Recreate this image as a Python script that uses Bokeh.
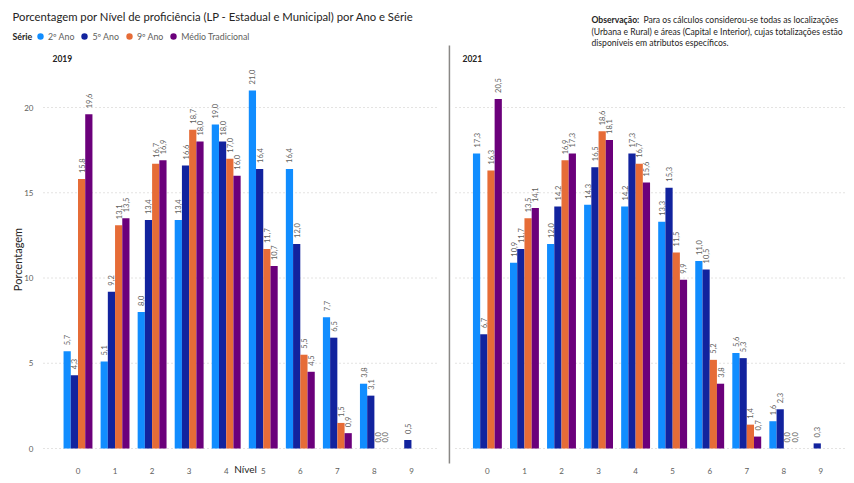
import math
from bokeh.plotting import figure
from bokeh.models import (ColumnDataSource, Range1d, Label, Legend, LegendItem)
from bokeh.transform import dodge
from bokeh.core.properties import value
from bokeh.embed import file_html
from bokeh.resources import INLINE

nan = float("nan")

# ---------------- data ----------------
niveis = [0, 1, 2, 3, 4, 5, 6, 7, 8, 9]
anos = ["2019", "2021"]
series = ["2º Ano", "5º Ano", "9º Ano", "Médio Tradicional"]
cores = ["#118DFF", "#12239E", "#E66C37", "#6B007B"]

ano2_2019 = [5.7, 5.1, 8.0, 13.4, 19.0, 21.0, 16.4, 7.7, 3.8, nan]
ano5_2019 = [4.3, 9.2, 13.4, 16.6, 18.0, 16.4, 12.0, 6.5, 3.1, 0.5]
ano9_2019 = [15.8, 13.1, 16.7, 18.7, 17.0, 11.7, 5.5, 1.5, 0.0, nan]
medio_2019 = [19.6, 13.5, 16.9, 18.0, 16.0, 10.7, 4.5, 0.9, 0.0, nan]

ano2_2021 = [17.3, 10.9, 12.0, 14.3, 14.2, 13.3, 11.0, 5.6, 1.6, nan]
ano5_2021 = [6.7, 11.7, 14.2, 16.5, 17.3, 15.3, 10.5, 5.3, 2.3, 0.3]
ano9_2021 = [16.3, 13.5, 16.9, 18.6, 16.7, 11.5, 5.2, 1.4, 0.0, nan]
medio_2021 = [20.5, 14.1, 17.3, 18.1, 15.6, 9.9, 3.8, 0.7, 0.0, nan]

y_ticks = [0, 5, 10, 15, 20]
x_label = "Nível"
y_label = "Porcentagem"

titulo = "Porcentagem por Nível de proficiência (LP - Estadual e Municipal) por Ano e Série"
legenda_titulo = "Série"
obs_bold = "Observação:"
obs_linhas = ["Para os cálculos considerou-se todas as localizações",
              "(Urbana e Rural) e áreas (Capital e Interior), cujas totalizações estão",
              "disponíveis em atributos específicos."]

valores = {
    "2019": [ano2_2019, ano5_2019, ano9_2019, medio_2019],
    "2021": [ano2_2021, ano5_2021, ano9_2021, medio_2021],
}

# ---------------- layout constants ----------------
FONT = "Lato"
TXT = "#605E5C"
DARK = "#252423"
GRID = "#C8C6C4"
W, H = 846, 475
PANEL_OFFSET = 11.05
BAR_W = 0.195
offsets = [-1.5 * BAR_W, -0.5 * BAR_W, 0.5 * BAR_W, 1.5 * BAR_W]
PX_X, X0_PAGE = 37.05, 77.5     # pixels per level, pixel of level 0 (first panel)
PX_Y, Y0_PAGE = 17.05, 448.0    # pixels per percent, pixel of the 0 line


def dx(px):
    return (px - X0_PAGE) / PX_X


def dy(py):
    return (Y0_PAGE - py) / PX_Y


def sy(py):
    return H - py


p = figure(width=W, height=H, output_backend="svg", toolbar_location=None,
           x_range=Range1d(dx(0), dx(W)), y_range=Range1d(dy(H), dy(0)),
           min_border_left=0, min_border_right=0, min_border_top=0, min_border_bottom=0)
p.axis.visible = False
p.grid.visible = False
p.outline_line_color = None
p.background_fill_color = "white"
p.border_fill_color = "white"

# ---- grid lines (per panel) ----
panel_spans = [(dx(43), dx(438)), (dx(455), dx(W))]
for x0, x1 in panel_spans:
    p.segment(x0=[x0] * len(y_ticks), x1=[x1] * len(y_ticks), y0=y_ticks, y1=y_ticks,
              line_color=GRID, line_width=1, line_dash="1 3")

# ---- separator between the panels ----
sep_x = (9 + PANEL_OFFSET) / 2
p.segment(x0=[sep_x], x1=[sep_x], y0=[dy(463)], y1=[dy(45)],
          line_color="#8A8886", line_width=1.5)

# ---- y tick labels ----
p.text(x=[dx(43)] * len(y_ticks), y=y_ticks, text=[str(t) for t in y_ticks], x_offset=-10,
       text_align="right", text_baseline="middle", text_font=value(FONT),
       text_font_size="8px", text_color=TXT)

# ---- x tick labels ----
tick_src = ColumnDataSource(dict(
    x=niveis + [n + PANEL_OFFSET for n in niveis],
    y=[0] * (2 * len(niveis)),
    t=[str(n) for n in niveis] * 2,
))
p.text(x="x", y="y", text="t", source=tick_src, y_offset=22, text_align="center",
       text_baseline="middle", text_font=value(FONT), text_font_size="8px",
       text_color=TXT)

# ---- bars + data labels ----
for yi, ano in enumerate(anos):
    off = yi * PANEL_OFFSET
    for si, s in enumerate(series):
        vals = valores[ano][si]
        src = ColumnDataSource(dict(
            x=[n + off for n in niveis],
            top=vals,
            label=["" if math.isnan(v) else f"{v:.1f}".replace(".", ",") for v in vals],
        ))
        p.vbar(x=dodge("x", offsets[si], range=p.x_range), top="top", bottom=0,
               width=BAR_W, source=src, fill_color=cores[si], line_color=None)
        p.text(x=dodge("x", offsets[si], range=p.x_range), y="top", text="label",
               source=src, angle=math.pi / 2, text_align="left",
               text_baseline="middle", y_offset=-6,
               text_font=value(FONT), text_font_size="7.5px", text_color=TXT)

# ---- header texts ----
p.add_layout(Label(x=12, y=sy(16), x_units="screen", y_units="screen", text=titulo,
                   text_font=FONT, text_font_size="11.3px", text_color=DARK,
                   text_baseline="middle"))
p.add_layout(Label(x=12, y=sy(36), x_units="screen", y_units="screen", text=legenda_titulo,
                   text_font=FONT, text_font_size="8.8px", text_font_style="bold",
                   text_color=DARK, text_baseline="middle"))
p.add_layout(Label(x=591, y=sy(19), x_units="screen", y_units="screen", text=obs_bold,
                   text_font=FONT, text_font_size="8.6px", text_font_style="bold",
                   text_color=DARK, text_baseline="middle"))
p.add_layout(Label(x=643, y=sy(19), x_units="screen", y_units="screen", text=obs_linhas[0],
                   text_font=FONT, text_font_size="8.6px", text_color=DARK,
                   text_baseline="middle"))
for li, t in enumerate(obs_linhas[1:]):
    p.add_layout(Label(x=591, y=sy(31 + 11.5 * li), x_units="screen", y_units="screen",
                       text=t, text_font=FONT, text_font_size="8.6px", text_color=DARK,
                       text_baseline="middle"))

# ---- legend (circle markers) ----
items = []
for si, s in enumerate(series):
    r = p.scatter(x=[nan], y=[nan], marker="circle", size=7, fill_color=cores[si],
                  line_color=None)
    items.append(LegendItem(label=s, renderers=[r]))
legend = Legend(items=items, orientation="horizontal", location=(32, sy(44)),
                glyph_width=16, glyph_height=16, label_standoff=-4, spacing=2,
                label_height=10, label_width=10, padding=0, margin=0,
                border_line_color=None, background_fill_alpha=0,
                label_text_font=FONT, label_text_font_size="8.8px", label_text_color=TXT)
p.add_layout(legend)

# ---- panel titles and axis titles ----
for yi, ano in enumerate(anos):
    p.add_layout(Label(x=52 + 410 * yi, y=sy(58), x_units="screen", y_units="screen",
                       text=ano, text_font=FONT, text_font_size="8.5px",
                       text_font_style="bold", text_color=DARK, text_baseline="middle"))
p.add_layout(Label(x=17, y=sy(259), x_units="screen", y_units="screen", text=y_label,
                   angle=math.pi / 2, text_font=FONT, text_font_size="11px",
                   text_color=DARK, text_align="center", text_baseline="middle"))
p.add_layout(Label(x=245, y=sy(468), x_units="screen", y_units="screen", text=x_label,
                   text_font=FONT, text_font_size="10px", text_color=DARK,
                   text_align="center", text_baseline="middle"))

open("out.html", "w").write(file_html(p, INLINE))
